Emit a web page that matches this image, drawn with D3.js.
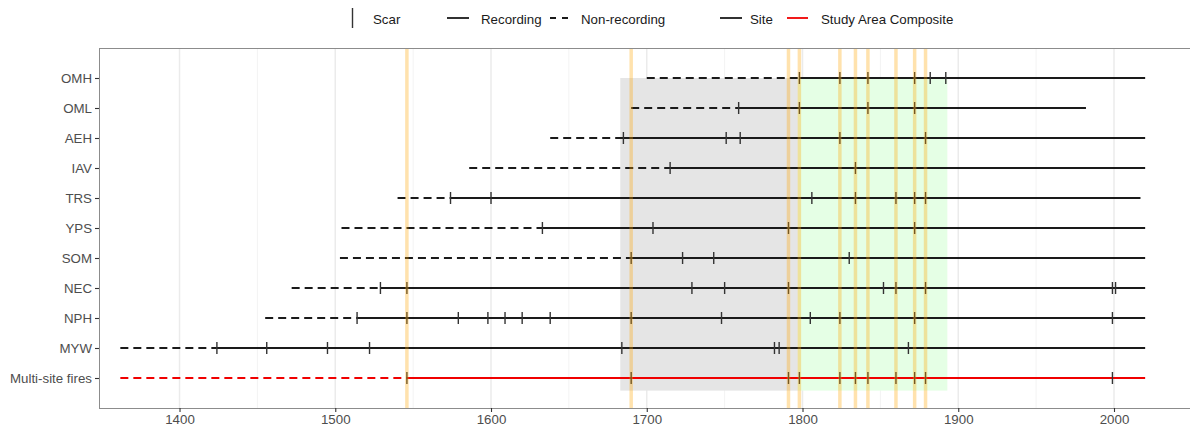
<!DOCTYPE html>
<html>
<head>
<meta charset="utf-8">
<title>Fire history chart</title>
<script src="https://cdn.jsdelivr.net/npm/d3@7/dist/d3.min.js"></script>
<style>
  * { margin: 0; padding: 0; }
  body { background: #fff; }
  text { font-family: "Liberation Sans", Arial, sans-serif; }
</style>
</head>
<body>
<div id="chart"></div>
<script>
// sites top to bottom
var sites = ["OMH", "OML", "AEH", "IAV", "TRS", "YPS", "SOM", "NEC", "NPH", "MYW", "Multi-site fires"];
// first year of each series (start of non-recording)
var firstYears = [1700, 1690, 1638, 1586, 1540, 1504, 1503, 1472, 1455, 1362, 1362];
// last year of each series
var lastYears = [2020, 1982, 2020, 2020, 2017, 2020, 2020, 2020, 2020, 2020, 2020];
// fire scar years per site
var scars = [
  [1798, 1824, 1842, 1872, 1882, 1892],
  [1759, 1798, 1842, 1872],
  [1685, 1751, 1760, 1824, 1879],
  [1715, 1834],
  [1574, 1600, 1806, 1834, 1860, 1872, 1879],
  [1633, 1704, 1791, 1872],
  [1690, 1723, 1743, 1830],
  [1529, 1546, 1729, 1750, 1791, 1852, 1860, 1879, 1999, 2001],
  [1514, 1546, 1579, 1598, 1609, 1620, 1638, 1690, 1748, 1805, 1824, 1872, 1999],
  [1424, 1456, 1495, 1522, 1684, 1782, 1785, 1868],
  [1546, 1690, 1791, 1798, 1824, 1834, 1842, 1860, 1872, 1879, 1999]
];
// highlighted composite years
var highlightYears = [1546, 1690, 1791, 1798, 1824, 1834, 1842, 1860, 1872, 1879];
// shaded periods
var periods = [[1683, 1797], [1797, 1893]];
var periodColors = ["#e5e5e5", "#e5ffe5"];
var xTicks = [1400, 1500, 1600, 1700, 1800, 1900, 2000];
var xMinor = [1450, 1550, 1650, 1750, 1850, 1950];

var W = 1190, H = 429;
var pLeft = 99, pRight = 1190, pTop = 48, pBottom = 408;

var svg = d3.select("#chart").append("svg")
  .attr("width", W).attr("height", H);

var x = d3.scaleLinear().domain([1348.3, 2048.8]).range([pLeft, pRight]);
var y = d3.scalePoint().domain(sites).range([pTop, pBottom]).padding(1);
var step = y.step();

svg.append("clipPath").attr("id", "clip")
  .append("rect").attr("x", pLeft).attr("y", pTop)
  .attr("width", pRight - pLeft).attr("height", pBottom - pTop);

var panel = svg.append("g").attr("clip-path", "url(#clip)");

// grid
panel.selectAll(".minor").data(xMinor).enter().append("line")
  .attr("x1", function(d){ return x(d); }).attr("x2", function(d){ return x(d); })
  .attr("y1", pTop).attr("y2", pBottom)
  .attr("stroke", "#f3f3f3").attr("stroke-width", 1);
panel.selectAll(".major").data(xTicks).enter().append("line")
  .attr("x1", function(d){ return x(d); }).attr("x2", function(d){ return x(d); })
  .attr("y1", pTop).attr("y2", pBottom)
  .attr("stroke", "#ebebeb").attr("stroke-width", 1.5);

// shaded periods
panel.selectAll(".period").data(periods).enter().append("rect")
  .attr("x", function(d){ return x(d[0]); })
  .attr("width", function(d){ return x(d[1]) - x(d[0]); })
  .attr("y", y(sites[0]))
  .attr("height", y(sites[sites.length - 1]) + 0.42 * step - y(sites[0]))
  .attr("fill", function(d, i){ return periodColors[i]; });

// series lines
var rows = panel.selectAll(".row").data(sites).enter().append("g")
  .attr("transform", function(d){ return "translate(0," + y(d) + ")"; });

rows.each(function(site, i){
  var g = d3.select(this);
  var col = site === "Multi-site fires" ? "#f00000" : "#1a1a1a";
  var rec = scars[i][0];
  g.append("line")
    .attr("x1", x(firstYears[i])).attr("x2", x(rec))
    .attr("stroke", col).attr("stroke-width", 1.8)
    .attr("stroke-dasharray", "8,5");
  g.append("line")
    .attr("x1", x(rec)).attr("x2", x(lastYears[i]))
    .attr("stroke", col).attr("stroke-width", 1.8);
  g.selectAll(".scar").data(scars[i]).enter().append("line")
    .attr("x1", function(d){ return x(d); }).attr("x2", function(d){ return x(d); })
    .attr("y1", -6).attr("y2", 6)
    .attr("stroke", "#333").attr("stroke-width", 1.4);
});

// highlighted years
panel.selectAll(".hl").data(highlightYears).enter().append("line")
  .attr("x1", function(d){ return x(d); }).attr("x2", function(d){ return x(d); })
  .attr("y1", pTop).attr("y2", pBottom)
  .attr("stroke", "#ffa500").attr("stroke-opacity", 0.32).attr("stroke-width", 3.5);

// panel border
svg.append("rect").attr("x", pLeft + 0.5).attr("y", pTop + 0.5)
  .attr("width", pRight - pLeft).attr("height", pBottom - pTop)
  .attr("fill", "none").attr("stroke", "#8c8c8c").attr("stroke-width", 1);

// axes
var xAxis = svg.append("g").attr("transform", "translate(0," + pBottom + ")")
  .call(d3.axisBottom(x).tickValues(xTicks).tickFormat(d3.format("d")).tickSize(4).tickPadding(3));
var yAxis = svg.append("g").attr("transform", "translate(" + pLeft + ",0)")
  .call(d3.axisLeft(y).tickSize(4).tickPadding(3));
[xAxis, yAxis].forEach(function(a){
  a.select(".domain").remove();
  a.selectAll(".tick line").attr("stroke", "#333").attr("stroke-width", 1.1);
  a.selectAll(".tick text").attr("fill", "#4d4d4d").style("font-size", "13.3px")
    .style("font-family", "'Liberation Sans', Arial, sans-serif");
});

// legend
var leg = svg.append("g").style("font-size", "13.3px").attr("fill", "#1a1a1a");
leg.append("line").attr("x1", 352.5).attr("x2", 352.5).attr("y1", 8).attr("y2", 28)
  .attr("stroke", "#333").attr("stroke-width", 1.4);
leg.append("text").attr("x", 373).attr("y", 23.5).text("Scar");
leg.append("line").attr("x1", 447).attr("x2", 469).attr("y1", 18).attr("y2", 18)
  .attr("stroke", "#1a1a1a").attr("stroke-width", 1.8);
leg.append("text").attr("x", 481).attr("y", 23.5).text("Recording");
leg.append("line").attr("x1", 550).attr("x2", 570).attr("y1", 18).attr("y2", 18)
  .attr("stroke", "#1a1a1a").attr("stroke-width", 1.8).attr("stroke-dasharray", "6,6");
leg.append("text").attr("x", 581).attr("y", 23.5).text("Non-recording");
leg.append("line").attr("x1", 720).attr("x2", 742).attr("y1", 18).attr("y2", 18)
  .attr("stroke", "#1a1a1a").attr("stroke-width", 1.8);
leg.append("text").attr("x", 750).attr("y", 23.5).text("Site");
leg.append("line").attr("x1", 787).attr("x2", 808).attr("y1", 18).attr("y2", 18)
  .attr("stroke", "#f00000").attr("stroke-width", 1.8);
leg.append("text").attr("x", 821).attr("y", 23.5).text("Study Area Composite");
</script>
</body>
</html>
